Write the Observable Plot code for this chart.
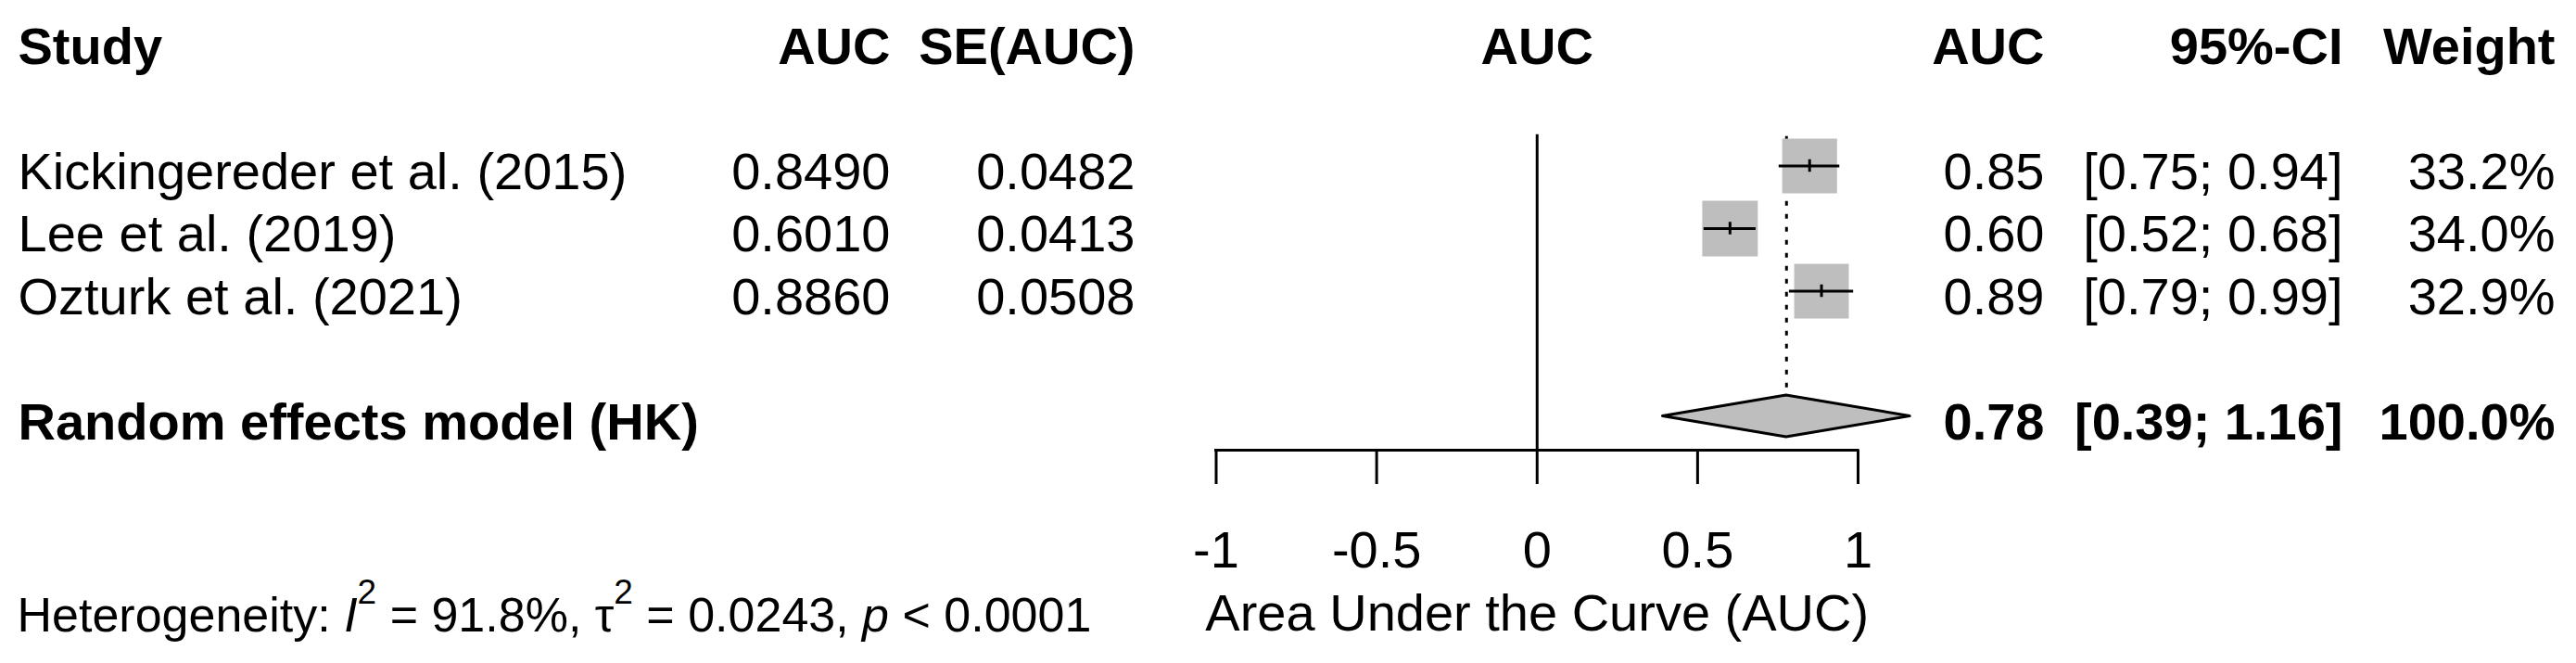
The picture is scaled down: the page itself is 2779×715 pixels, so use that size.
<!DOCTYPE html>
<html>
<head>
<meta charset="utf-8">
<script src="https://cdn.jsdelivr.net/npm/d3@7"></script>
<script src="https://cdn.jsdelivr.net/npm/@observablehq/plot@0.6"></script>
<style>
  html, body { margin: 0; padding: 0; background: #ffffff; }
  #chart svg { font-family: "Liberation Sans", Arial, sans-serif; display: block; }
</style>
</head>
<body>
<div id="chart"></div>
<script>
// ---------- data ----------
const studies = ["Kickingereder et al. (2015)", "Lee et al. (2019)", "Ozturk et al. (2021)"];
const aucValues = [0.8490, 0.6010, 0.8860];
const seValues = [0.0482, 0.0413, 0.0508];
const ciLower = [0.754, 0.520, 0.786];
const ciUpper = [0.943, 0.682, 0.986];
const weights = [33.2, 34.0, 32.9];

const summaryLabel = "Random effects model (HK)";
const summaryEst = 0.777;
const summaryLower = 0.392;
const summaryUpper = 1.162;
const summaryWeight = 100.0;

const hetI2 = "91.8%";
const hetTau2 = "0.0243";
const hetP = "< 0.0001";

const headers = ["Study", "AUC", "SE(AUC)", "AUC", "95%-CI", "Weight"];
const forestHeader = "AUC";
const xTicks = [-1, -0.5, 0, 0.5, 1];
const xLabel = "Area Under the Curve (AUC)";

// ---------- layout (positions / sizes / styles) ----------
const W = 2779, H = 715;
const FONT = 56, HET_FONT = 52, SUP_FONT = 37, SUP_RAISE = 30, TEXT_DY = 7;
const GREY = "#bebebe";
const headerRow = -1, summaryRow = 5, axisRow = 5.54, footerRow = 8.06;
const zeroTop = 0.5, dotTop = 0.53, dotBottom = 4.62;
const diamondHalf = 0.333, tickHalf = 0.1;
const colX = { study: 19, auc: 960, se: 1224, est: 2205, ci: 2527, w: 2756 };

// ---------- derived tables ----------
const rows = studies.map((s, i) => ({
  study: s, row: i + 1, auc: aucValues[i], se: seValues[i],
  lo: ciLower[i], hi: ciUpper[i], w: weights[i]
}));
const fmtCI = (lo, hi) => `[${lo.toFixed(2)}; ${hi.toFixed(2)}]`;

const tableCells = [];
rows.forEach(r => {
  tableCells.push({row: r.row, col: "study", text: r.study, bold: false});
  tableCells.push({row: r.row, col: "auc", text: r.auc.toFixed(4), bold: false});
  tableCells.push({row: r.row, col: "se", text: r.se.toFixed(4), bold: false});
  tableCells.push({row: r.row, col: "est", text: r.auc.toFixed(2), bold: false});
  tableCells.push({row: r.row, col: "ci", text: fmtCI(r.lo, r.hi), bold: false});
  tableCells.push({row: r.row, col: "w", text: r.w.toFixed(1) + "%", bold: false});
});
["study", "auc", "se", "est", "ci", "w"].forEach((c, i) =>
  tableCells.push({row: headerRow, col: c, text: headers[i], bold: true}));
tableCells.push({row: summaryRow, col: "study", text: summaryLabel, bold: true});
tableCells.push({row: summaryRow, col: "est", text: summaryEst.toFixed(2), bold: true});
tableCells.push({row: summaryRow, col: "ci", text: fmtCI(summaryLower, summaryUpper), bold: true});
tableCells.push({row: summaryRow, col: "w", text: summaryWeight.toFixed(1) + "%", bold: true});

const diamond = [
  {x: summaryLower, y1: summaryRow, y2: summaryRow},
  {x: summaryEst, y1: summaryRow - diamondHalf, y2: summaryRow + diamondHalf},
  {x: summaryUpper, y1: summaryRow, y2: summaryRow}
];

const colMarks = [];
for (const c of Object.keys(colX)) {
  for (const bold of [false, true]) {
    const cells = tableCells.filter(d => d.col === c && d.bold === bold);
    if (!cells.length) continue;
    colMarks.push(Plot.text(cells, {
      y: "row", text: "text", frameAnchor: "left", dx: colX[c], dy: TEXT_DY,
      textAnchor: c === "study" ? "start" : "end",
      fontSize: FONT, fontWeight: bold ? "bold" : "normal", fill: "black"
    }));
  }
}

const chart = Plot.plot({
  width: W, height: H,
  marginLeft: 0, marginRight: 0, marginTop: 0, marginBottom: H - 485,
  x: {domain: [-1, 1], range: [1311.5, 2004]},
  y: {domain: [-1, 5], range: [43.5, 448.5], axis: null},
  r: {type: "sqrt", domain: [0, 34], range: [0, 33.8]},
  style: {fontFamily: "'Liberation Sans', Arial, sans-serif", color: "black", background: "white"},
  marks: [
    // axis line and ticks
    Plot.ruleY([{row: axisRow, x1: -1, x2: 1}], {y: "row", x1: "x1", x2: "x2", stroke: "black", strokeWidth: 3, strokeLinecap: "square"}),
    Plot.axisX({ticks: xTicks, tickSize: 37, tickPadding: 50, strokeWidth: 3, tickFormat: d => String(d),
      fontSize: FONT, label: null, fill: "black", stroke: "black"}),
    // line of no effect
    Plot.ruleX([{x: 0, y1: zeroTop, y2: axisRow}], {x: "x", y1: "y1", y2: "y2", stroke: "black", strokeWidth: 3}),
    // dotted summary line
    Plot.ruleX([{x: summaryEst, y1: dotTop, y2: dotBottom}], {x: "x", y1: "y1", y2: "y2", stroke: "black", strokeWidth: 3, strokeDasharray: "5,9"}),
    // study squares
    Plot.dot(rows, {x: "auc", y: "row", r: "w", symbol: "square", fill: GREY, stroke: null}),
    // confidence intervals
    Plot.ruleY(rows, {y: "row", x1: "lo", x2: "hi", stroke: "black", strokeWidth: 3}),
    Plot.ruleX(rows, {x: "auc", y1: d => d.row - tickHalf, y2: d => d.row + tickHalf, stroke: "black", strokeWidth: 3}),
    // summary diamond
    Plot.areaY(diamond, {x: "x", y1: "y1", y2: "y2", fill: GREY, stroke: "black", strokeWidth: 3, curve: "linear"}),
    // forest header and axis label
    Plot.text([{x: 0, row: headerRow, t: forestHeader}], {x: "x", y: "row", text: "t", dy: TEXT_DY, fontSize: FONT, fontWeight: "bold", fill: "black"}),
    Plot.text([{x: 0, row: footerRow, t: xLabel}], {x: "x", y: "row", text: "t", dy: TEXT_DY, fontSize: FONT, fill: "black"}),
    // heterogeneity
    Plot.text([{row: footerRow, t: `Heterogeneity: I2 = ${hetI2}, tau2 = ${hetTau2}, p ${hetP}`}],
      {y: "row", text: "t", frameAnchor: "left", dx: colX.study - 1, dy: TEXT_DY + 2, textAnchor: "start", fontSize: HET_FONT, fill: "black"}),
    ...colMarks
  ]
});

// rich-text heterogeneity line (italics + superscripts)
const svgNS = "http://www.w3.org/2000/svg";
d3.select(chart).selectAll("text").each(function () {
  if (this.textContent.startsWith("Heterogeneity")) {
    const el = this;
    el.textContent = "";
    const parts = [
      {t: "Heterogeneity: "},
      {t: "I", italic: true},
      {t: "2", sup: true},
      {t: " = " + hetI2 + ", τ"},
      {t: "2", sup: true},
      {t: " = " + hetTau2 + ", "},
      {t: "p", italic: true},
      {t: " " + hetP}
    ];
    let raised = false;
    for (const p of parts) {
      const ts = document.createElementNS(svgNS, "tspan");
      ts.textContent = p.t;
      if (p.italic) ts.setAttribute("font-style", "italic");
      if (p.sup) { ts.setAttribute("font-size", SUP_FONT); ts.setAttribute("dy", -SUP_RAISE); raised = true; }
      else if (raised) { ts.setAttribute("dy", SUP_RAISE); raised = false; }
      el.appendChild(ts);
    }
  }
});

document.getElementById("chart").appendChild(chart);
</script>
</body>
</html>
